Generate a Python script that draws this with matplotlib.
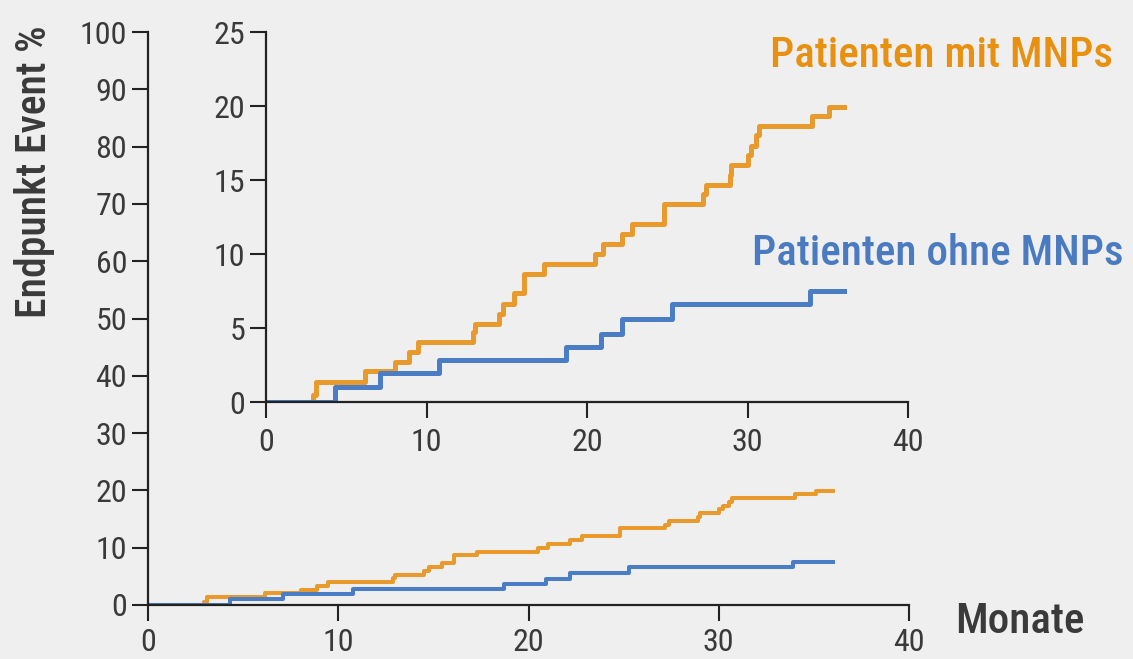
import matplotlib
matplotlib.use("Agg")
import matplotlib.pyplot as plt

# Kaplan-Meier style cumulative endpoint curves (months, %)
t_mit = [0, 2.92, 3.11, 6.16, 8.03, 8.9, 9.46, 12.9, 13.0, 14.5, 14.75, 15.43, 16.1,
         17.3, 20.5, 21.0, 22.2, 22.8, 24.8, 27.2, 27.4, 28.9, 29.0, 30.0, 30.2,
         30.55, 30.7, 34.0, 35.1, 36.0]
y_mit = [0, 0.47, 1.34, 2.08, 2.68, 3.36, 4.03, 4.7, 5.3, 5.97, 6.6, 7.35, 8.66,
         9.33, 10.0, 10.67, 11.34, 12.0, 13.36, 14.03, 14.63, 15.37, 16.04, 16.7, 17.3,
         18.05, 18.66, 19.33, 19.93, 19.93]
t_ohne = [0, 4.3, 7.1, 10.8, 18.7, 20.9, 22.2, 25.3, 33.9, 36.0]
y_ohne = [0, 1.0, 1.95, 2.85, 3.75, 4.6, 5.6, 6.6, 7.5, 7.5]

main_yticks = [0, 10, 20, 30, 40, 50, 60, 70, 80, 90, 100]
inset_yticks = [0, 5, 10, 15, 20, 25]
xticks = [0, 10, 20, 30, 40]

orange = "#E99A2C"
blue = "#4A7DC4"
orange_txt = "#E8900F"
blue_txt = "#4A7BC0"
bg = "#EFEFEF"
txt = "#3A3A3A"

plt.rcParams["font.family"] = ["Roboto Condensed", "DejaVu Sans"]

fig = plt.figure(figsize=(11.33, 6.59), dpi=100)
fig.patch.set_facecolor(bg)

W, H = 1133, 659


def style(ax, yticks, xpad):
    ax.set_facecolor("none")
    for s in ["top", "right"]:
        ax.spines[s].set_visible(False)
    for s in ["left", "bottom"]:
        ax.spines[s].set_linewidth(1.6)
        ax.spines[s].set_color("#222222")
    ax.set_xlim(0, 40)
    ax.set_xticks(xticks)
    ax.set_yticks(yticks)
    ax.tick_params(axis="both", length=11.5, width=1.5, color="#222222",
                   labelsize=23, labelcolor=txt)
    ax.tick_params(axis="y", pad=3.5)
    ax.tick_params(axis="x", pad=xpad)


ax = fig.add_axes([148 / W, 54 / H, 761 / W, 573 / H])
style(ax, main_yticks, 5)
ax.set_ylim(0, 100)
ax.step(t_mit, y_mit, where="post", color=orange, lw=2.9)
ax.step(t_ohne, y_ohne, where="post", color=blue, lw=2.9)

ins = fig.add_axes([266 / W, 257 / H, 642 / W, 370 / H])
style(ins, inset_yticks, 7)
ins.set_ylim(0, 25)
ins.step(t_mit, y_mit, where="post", color=orange, lw=3.6)
ins.step(t_ohne, y_ohne, where="post", color=blue, lw=3.6)

fig.text(770 / W, 1 - 67 / H, "Patienten mit MNPs", color=orange_txt,
         fontsize=31, fontweight="medium", ha="left", va="baseline")
fig.text(752 / W, 1 - 265 / H, "Patienten ohne MNPs", color=blue_txt,
         fontsize=31, fontweight="medium", ha="left", va="baseline")
fig.text(955 / W, 1 - 633 / H, "Monate", color=txt,
         fontsize=31, fontweight="medium", ha="left", va="baseline")
fig.text(35 / W, 1 - 172 / H, "Endpunkt Event %", color=txt, rotation=90,
         fontsize=30, fontweight="medium", ha="center", va="center")

fig.savefig("out.png", dpi=100, facecolor=bg)
